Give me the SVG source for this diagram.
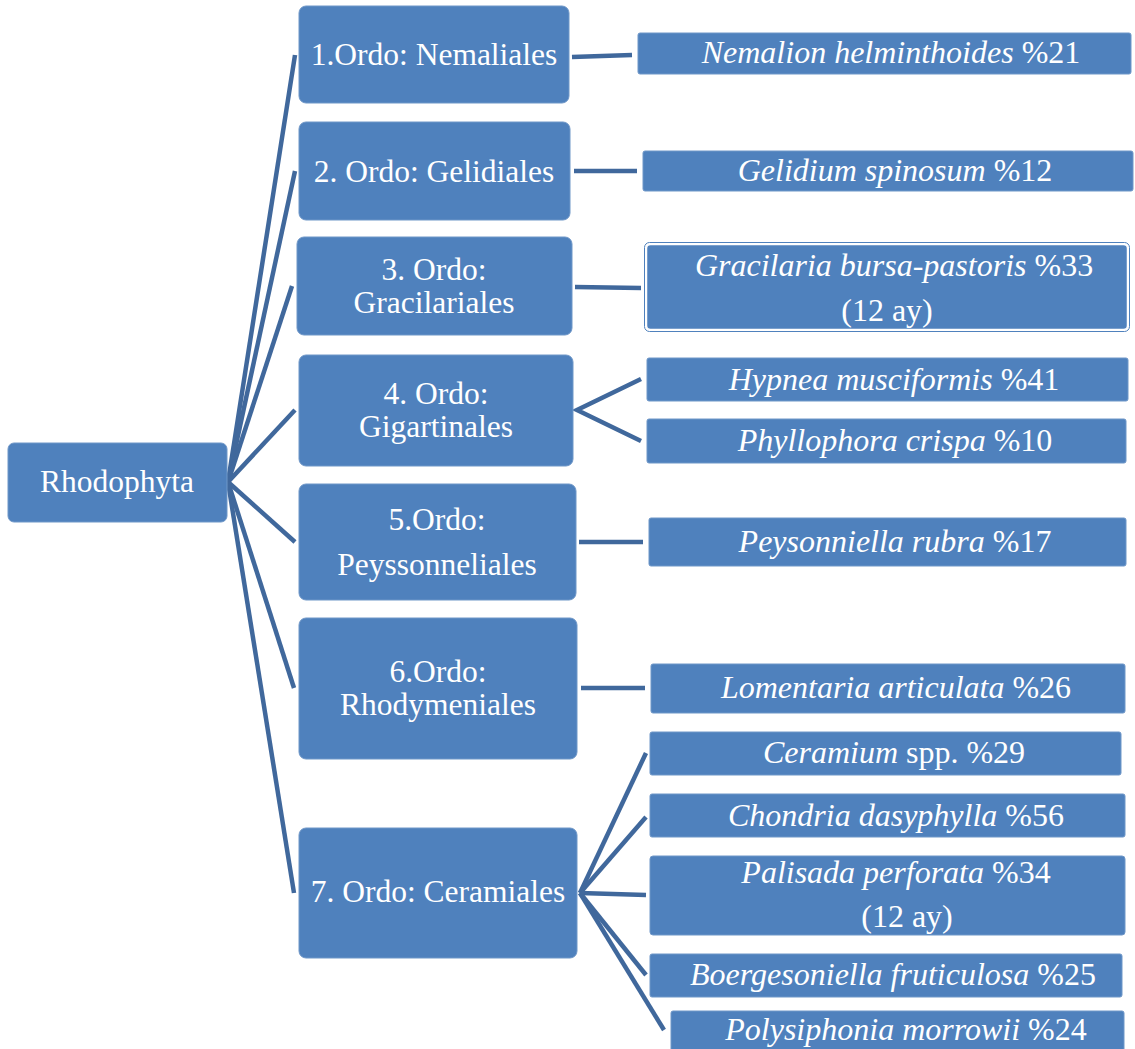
<svg xmlns="http://www.w3.org/2000/svg" width="1135" height="1049" viewBox="0 0 1135 1049">
<style>
.box{fill:#4F81BD;stroke:#6F97C8;stroke-width:1}
.leaf{fill:#4F81BD;stroke:#6F97C8;stroke-width:1}
.t{font-family:"Liberation Serif","Times New Roman",serif;fill:#FFFFFF;text-anchor:middle}
.o{font-size:31.5px}
.l{font-size:32px}
.i{font-style:italic}
.c{stroke:#40689C;stroke-width:4.5;fill:none;stroke-linecap:butt}
</style>
<rect width="1135" height="1049" fill="#FFFFFF"/>
<g id="connectors">
<line class="c" x1="228" y1="482" x2="295" y2="55"/>
<line class="c" x1="228" y1="482" x2="295" y2="171"/>
<line class="c" x1="228" y1="482" x2="292" y2="286"/>
<line class="c" x1="228" y1="482" x2="295" y2="410"/>
<line class="c" x1="228" y1="482" x2="295" y2="542"/>
<line class="c" x1="228" y1="482" x2="294" y2="688"/>
<line class="c" x1="228" y1="482" x2="294" y2="893"/>
<line class="c" x1="572" y1="57" x2="632" y2="55"/>
<line class="c" x1="574" y1="171" x2="637" y2="171"/>
<line class="c" x1="575" y1="287" x2="641" y2="288"/>
<polyline class="c" points="641,379 577,410 641,441"/>
<line class="c" x1="579" y1="542" x2="643" y2="542"/>
<line class="c" x1="581" y1="688" x2="645" y2="688"/>
<line class="c" x1="580" y1="893" x2="646" y2="753"/>
<line class="c" x1="580" y1="893" x2="646" y2="817"/>
<line class="c" x1="580" y1="893" x2="646" y2="895"/>
<line class="c" x1="580" y1="893" x2="646" y2="975"/>
<line class="c" x1="580" y1="893" x2="664" y2="1030"/>
</g>
<g id="rhodophyta">
<rect class="box" x="8" y="443" width="219" height="79" rx="6"/>
<text class="t o" x="117" y="492">Rhodophyta</text>
</g>
<g id="ordo1">
<rect class="box" x="299" y="6" width="270" height="97" rx="7"/>
<text class="t o" x="434" y="65">1.Ordo: Nemaliales</text>
</g>
<g id="ordo2">
<rect class="box" x="299" y="122" width="271" height="98" rx="7"/>
<text class="t o" x="434" y="182">2. Ordo: Gelidiales</text>
</g>
<g id="ordo3">
<rect class="box" x="297" y="237" width="275" height="98" rx="7"/>
<text class="t o" x="434" y="280">3. Ordo:</text>
<text class="t o" x="434" y="313">Gracilariales</text>
</g>
<g id="ordo4">
<rect class="box" x="299" y="355" width="274" height="111" rx="7"/>
<text class="t o" x="436" y="404">4. Ordo:</text>
<text class="t o" x="436" y="437">Gigartinales</text>
</g>
<g id="ordo5">
<rect class="box" x="299" y="484" width="277" height="116" rx="7"/>
<text class="t o" x="437" y="530">5.Ordo:</text>
<text class="t o" x="437" y="575">Peyssonneliales</text>
</g>
<g id="ordo6">
<rect class="box" x="299" y="618" width="278" height="141" rx="7"/>
<text class="t o" x="438" y="682">6.Ordo:</text>
<text class="t o" x="438" y="715">Rhodymeniales</text>
</g>
<g id="ordo7">
<rect class="box" x="299" y="828" width="278" height="130" rx="7"/>
<text class="t o" x="438" y="902">7. Ordo: Ceramiales</text>
</g>
<g id="nemalion">
<rect class="leaf" x="638" y="33" width="493" height="41" rx="2"/>
<text class="t l" x="891" y="63"><tspan class="i">Nemalion helminthoides</tspan> %21</text>
</g>
<g id="gelidium">
<rect class="leaf" x="643" y="151" width="490" height="40" rx="2"/>
<text class="t l" x="895" y="181"><tspan class="i">Gelidium spinosum</tspan> %12</text>
</g>
<g id="gracilaria">
<rect x="644.5" y="242.5" width="485" height="89" rx="5" fill="none" stroke="#4F81BD" stroke-width="1"/>
<rect x="646.5" y="244.5" width="481" height="85" rx="4" fill="#4F81BD" stroke="#FFFFFF" stroke-width="1.5"/>
<text class="t l" x="894" y="276"><tspan class="i">Gracilaria bursa-pastoris</tspan> %33</text>
<text class="t l" x="887" y="321">(12 ay)</text>
</g>
<g id="hypnea">
<rect class="leaf" x="647" y="358" width="481" height="43" rx="2"/>
<text class="t l" x="894" y="390"><tspan class="i">Hypnea musciformis</tspan> %41</text>
</g>
<g id="phyllophora">
<rect class="leaf" x="647" y="419" width="479" height="44" rx="2"/>
<text class="t l" x="895" y="451"><tspan class="i">Phyllophora crispa</tspan> %10</text>
</g>
<g id="peysonniella">
<rect class="leaf" x="649" y="518" width="477" height="48" rx="2"/>
<text class="t l" x="895" y="552"><tspan class="i">Peysonniella rubra</tspan> %17</text>
</g>
<g id="lomentaria">
<rect class="leaf" x="651" y="664" width="474" height="49" rx="2"/>
<text class="t l" x="896" y="698"><tspan class="i">Lomentaria articulata</tspan> %26</text>
</g>
<g id="ceramium">
<rect class="leaf" x="650" y="732" width="471" height="43" rx="2"/>
<text class="t l" x="894" y="763"><tspan class="i">Ceramium</tspan> spp. %29</text>
</g>
<g id="chondria">
<rect class="leaf" x="650" y="794" width="475" height="43" rx="2"/>
<text class="t l" x="896" y="826"><tspan class="i">Chondria dasyphylla</tspan> %56</text>
</g>
<g id="palisada">
<rect class="leaf" x="650" y="856" width="475" height="79" rx="3"/>
<text class="t l" x="896" y="883"><tspan class="i">Palisada perforata</tspan> %34</text>
<text class="t l" x="907" y="927">(12 ay)</text>
</g>
<g id="boergesoniella">
<rect class="leaf" x="650" y="954" width="472" height="43" rx="2"/>
<text class="t l" x="893" y="985"><tspan class="i">Boergesoniella fruticulosa</tspan> %25</text>
</g>
<g id="polysiphonia">
<rect class="leaf" x="671" y="1011" width="453" height="42" rx="2"/>
<text class="t l" x="906" y="1040"><tspan class="i">Polysiphonia morrowii</tspan> %24</text>
</g>
</svg>
